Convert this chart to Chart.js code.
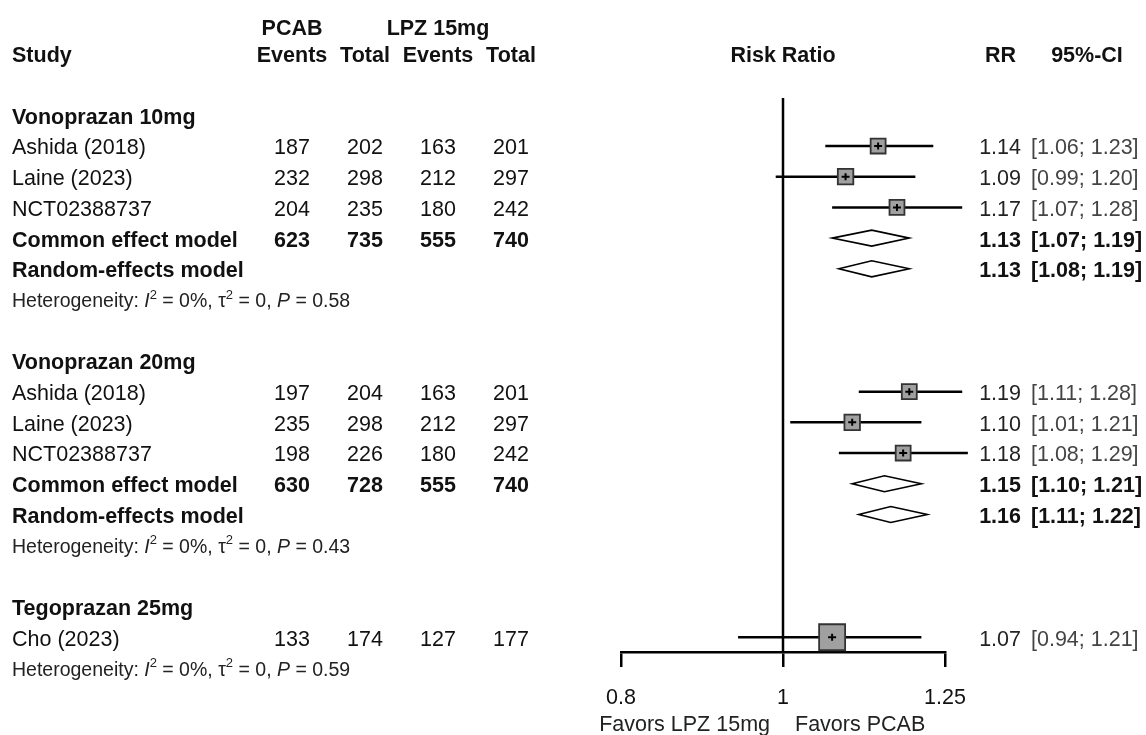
<!DOCTYPE html>
<html>
<head>
<meta charset="utf-8">
<script src="https://cdn.jsdelivr.net/npm/chart.js@4.4.1/dist/chart.umd.min.js"></script>
<style>
  html, body { margin: 0; padding: 0; background: #fff; }
  #wrap { width: 1146px; height: 735px; position: relative; }
</style>
</head>
<body>
<div id="wrap"><canvas id="forest"></canvas></div>
<script>
// Valores (forest plot, risk ratio)
const subgroups = ['Vonoprazan 10mg', 'Vonoprazan 20mg', 'Tegoprazan 25mg'];
const studyNames = [
  ['Ashida (2018)', 'Laine (2023)', 'NCT02388737'],
  ['Ashida (2018)', 'Laine (2023)', 'NCT02388737'],
  ['Cho (2023)']
];
const pcabEvents = [[187, 232, 204], [197, 235, 198], [133]];
const pcabTotal  = [[202, 298, 235], [204, 298, 226], [174]];
const lpzEvents  = [[163, 212, 180], [163, 212, 180], [127]];
const lpzTotal   = [[201, 297, 242], [201, 297, 242], [177]];
const rrValues   = [[1.14, 1.09, 1.17], [1.19, 1.10, 1.18], [1.07]];
const rrLower    = [[1.06, 0.99, 1.07], [1.11, 1.01, 1.08], [0.94]];
const rrUpper    = [[1.23, 1.20, 1.28], [1.28, 1.21, 1.29], [1.21]];
const weights    = [[33.0, 35.5, 33.0], [33.0, 35.5, 33.0], [100]];

// modelos combinados (null = subgrupo com um estudo só)
const commonTotals = [[623, 735, 555, 740], [630, 728, 555, 740], null];
const commonRR     = [1.13, 1.15, null];
const commonLower  = [1.07, 1.10, null];
const commonUpper  = [1.19, 1.21, null];
const randomRR     = [1.13, 1.16, null];
const randomLower  = [1.08, 1.11, null];
const randomUpper  = [1.19, 1.22, null];
const hetI2   = ['0%', '0%', '0%'];
const hetTau2 = ['0', '0', '0'];
const hetP    = ['0.58', '0.43', '0.59'];

const xTicks = [0.8, 1, 1.25];
const xTickLabels = ['0.8', '1', '1.25'];
const favorsLeft = 'Favors LPZ 15mg';
const favorsRight = 'Favors PCAB';

const FONT = '"Liberation Sans", Arial, Helvetica, sans-serif';
const SIZE = 21.5;
const DY = 2.5; // ajuste vertical do texto
const ROW_MAX = 19.48;

// monta as linhas da tabela
const rows = [];
let r = 2;
subgroups.forEach((name, g) => {
  rows.push({ type: 'group', row: r++, label: name });
  studyNames[g].forEach((s, i) => {
    rows.push({
      type: 'study', row: r++, label: s,
      cells: [pcabEvents[g][i], pcabTotal[g][i], lpzEvents[g][i], lpzTotal[g][i]],
      est: rrValues[g][i], lo: rrLower[g][i], hi: rrUpper[g][i], w: weights[g][i]
    });
  });
  if (commonRR[g] !== null) {
    rows.push({ type: 'model', row: r++, label: 'Common effect model', cells: commonTotals[g],
      est: commonRR[g], lo: commonLower[g], hi: commonUpper[g] });
    rows.push({ type: 'model', row: r++, label: 'Random-effects model', cells: null,
      est: randomRR[g], lo: randomLower[g], hi: randomUpper[g] });
  }
  rows.push({ type: 'het', row: r++, i2: hetI2[g], tau2: hetTau2[g], p: hetP[g] });
  r++; // linha em branco
});

const studyRows = rows.filter(d => d.type === 'study');
const colCenters = [292, 365, 438, 511];

function txt(ctx, s, x, y, align, bold, color) {
  ctx.font = (bold ? 'bold ' : '') + SIZE + 'px ' + FONT;
  ctx.textAlign = align;
  ctx.textBaseline = 'middle';
  ctx.fillStyle = color || '#111';
  ctx.fillText(s, x, y + DY);
}

function drawHet(ctx, x0, y, d) {
  const parts = [
    ['Heterogeneity: ', '', false],
    ['I', 'italic ', false], ['2', '', true],
    [' = ' + d.i2 + ', ', '', false],
    ['\u03c4', '', false], ['2', '', true],
    [' = ' + d.tau2 + ', ', '', false],
    ['P', 'italic ', false],
    [' = ' + d.p, '', false]
  ];
  let cx = x0;
  ctx.textAlign = 'left';
  ctx.textBaseline = 'middle';
  ctx.fillStyle = '#222';
  parts.forEach(([t, style, sup]) => {
    ctx.font = style + (sup ? 13 : 19.5) + 'px ' + FONT;
    ctx.fillText(t, cx, (sup ? y - 7 : y) + DY);
    cx += ctx.measureText(t).width;
  });
}

const forestPlugin = {
  id: 'forest',
  beforeDatasetsDraw(chart) {
    const { ctx, scales: { x, y } } = chart;
    ctx.save();
    ctx.strokeStyle = '#000';
    ctx.lineWidth = 2.5;
    // linha de nulidade
    const x1 = x.getPixelForValue(1);
    ctx.beginPath();
    ctx.moveTo(x1, y.getPixelForValue(1.44));
    ctx.lineTo(x1, chart.chartArea.bottom);
    ctx.stroke();
    // intervalos de confiança
    studyRows.forEach(d => {
      const py = y.getPixelForValue(d.row);
      ctx.beginPath();
      ctx.moveTo(x.getPixelForValue(d.lo), py);
      ctx.lineTo(x.getPixelForValue(d.hi), py);
      ctx.stroke();
    });
    ctx.restore();
  },
  afterDatasetsDraw(chart) {
    const { ctx, scales: { x, y } } = chart;
    ctx.save();
    // marca central dos quadrados
    ctx.strokeStyle = '#000';
    ctx.lineWidth = 2;
    studyRows.forEach(d => {
      const px = x.getPixelForValue(d.est), py = y.getPixelForValue(d.row);
      ctx.beginPath();
      ctx.moveTo(px, py - 3.5); ctx.lineTo(px, py + 3.5);
      ctx.moveTo(px - 4, py); ctx.lineTo(px + 4, py);
      ctx.stroke();
    });
    // losangos
    ctx.lineWidth = 1.6;
    rows.filter(d => d.type === 'model').forEach(d => {
      const py = y.getPixelForValue(d.row);
      ctx.beginPath();
      ctx.moveTo(x.getPixelForValue(d.lo), py);
      ctx.lineTo(x.getPixelForValue(d.est), py - 8);
      ctx.lineTo(x.getPixelForValue(d.hi), py);
      ctx.lineTo(x.getPixelForValue(d.est), py + 8);
      ctx.closePath();
      ctx.fillStyle = '#fff';
      ctx.fill();
      ctx.stroke();
    });

    // cabeçalho
    const yH0 = y.getPixelForValue(0), yHm = y.getPixelForValue(-0.9);
    txt(ctx, 'PCAB', colCenters[0], yHm, 'center', true);
    txt(ctx, 'LPZ 15mg', colCenters[2], yHm, 'center', true);
    txt(ctx, 'Study', 12, yH0, 'left', true);
    ['Events', 'Total', 'Events', 'Total'].forEach((h, i) => txt(ctx, h, colCenters[i], yH0, 'center', true));
    txt(ctx, 'Risk Ratio', x.getPixelForValue(1), yH0, 'center', true);
    txt(ctx, 'RR', 985, yH0, 'left', true);
    txt(ctx, '95%-CI', 1087, yH0, 'center', true);

    // linhas da tabela
    rows.forEach(d => {
      const py = y.getPixelForValue(d.row);
      if (d.type === 'group') {
        txt(ctx, d.label, 12, py, 'left', true);
      } else if (d.type === 'het') {
        drawHet(ctx, 12, py, d);
      } else {
        const bold = d.type === 'model';
        txt(ctx, d.label, 12, py, 'left', bold);
        if (d.cells) d.cells.forEach((c, i) => txt(ctx, String(c), colCenters[i], py, 'center', bold));
        txt(ctx, d.est.toFixed(2), 1021, py, 'right', bold, bold ? '#111' : '#222');
        txt(ctx, '[' + d.lo.toFixed(2) + '; ' + d.hi.toFixed(2) + ']', 1031, py, 'left', bold, bold ? '#111' : '#444');
      }
    });

    // rótulos "Favors"
    const x1 = x.getPixelForValue(1);
    txt(ctx, favorsLeft, x1 - 13, 723, 'right', false, '#222');
    txt(ctx, favorsRight, x1 + 12, 723, 'left', false, '#222');
    ctx.restore();
  }
};

const squareRadius = d => 26 * Math.sqrt(d.w / 100) / Math.SQRT2;

new Chart(document.getElementById('forest'), {
  type: 'scatter',
  data: {
    datasets: [{
      data: studyRows.map(d => ({ x: d.est, y: d.row })),
      pointStyle: 'rect',
      pointRadius: studyRows.map(squareRadius),
      pointHoverRadius: studyRows.map(squareRadius),
      backgroundColor: '#a0a0a0',
      borderColor: '#333',
      borderWidth: 1.8
    }]
  },
  options: {
    responsive: true,
    maintainAspectRatio: false,
    animation: false,
    layout: { padding: { left: 621, right: 201, top: 53.9, bottom: 5.2 } },
    plugins: { legend: { display: false }, tooltip: { enabled: false } },
    scales: {
      x: {
        type: 'logarithmic',
        min: 0.8,
        max: 1.25,
        afterBuildTicks: s => { s.ticks = xTicks.map(v => ({ value: v })); },
        ticks: {
          autoSkip: false,
          maxRotation: 0,
          padding: 18.5,
          color: '#111',
          font: { family: FONT, size: SIZE },
          callback: (v) => xTickLabels[xTicks.indexOf(v)] ?? ''
        },
        grid: { display: true, drawOnChartArea: false, drawTicks: true, tickLength: 15, color: '#000', lineWidth: 2.5 },
        border: { display: true, color: '#000', width: 2.5 }
      },
      y: { type: 'linear', display: false, min: 0, max: ROW_MAX, reverse: true }
    }
  },
  plugins: [forestPlugin]
});
</script>
</body>
</html>
